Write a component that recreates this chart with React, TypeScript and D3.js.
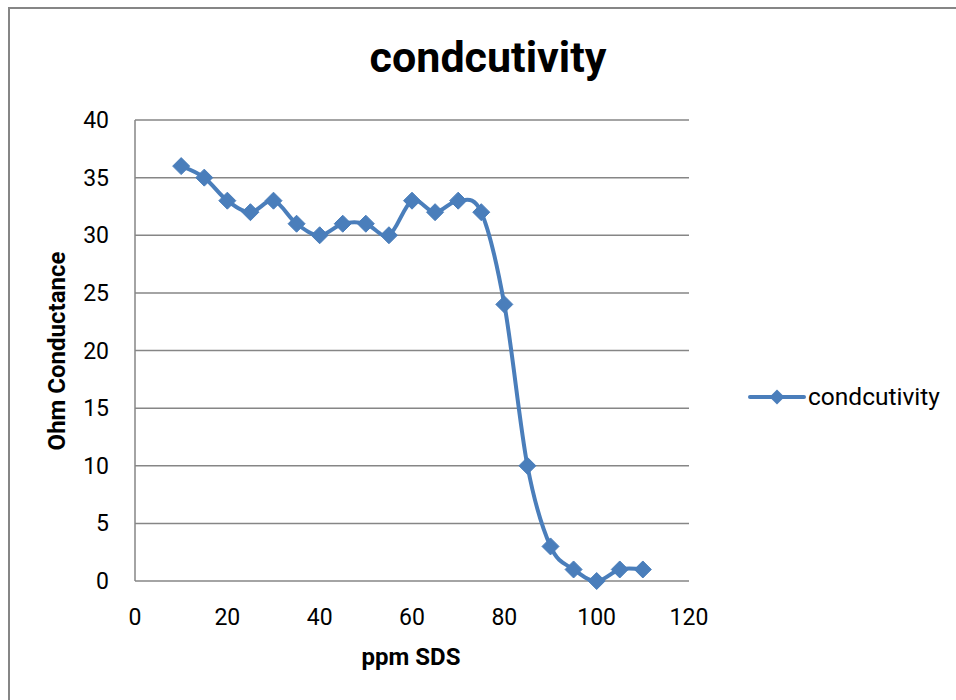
import React, { useEffect, useRef } from 'react';
import * as d3 from 'd3';

const ppm = [10, 15, 20, 25, 30, 35, 40, 45, 50, 55, 60, 65, 70, 75, 80, 85, 90, 95, 100, 105, 110];
const conductance = [36, 35, 33, 32, 33, 31, 30, 31, 31, 30, 33, 32, 33, 32, 24, 10, 3, 1, 0, 1, 1];
const xTicks = [0, 20, 40, 60, 80, 100, 120];
const yTicks = [0, 5, 10, 15, 20, 25, 30, 35, 40];
const seriesName = 'condcutivity';

const App: React.FC = () => {
  const svgRef = useRef<SVGSVGElement>(null);
  const width = 956;
  const height = 700;

  useEffect(() => {
    if (!svgRef.current) return;
    const svg = d3.select(svgRef.current);
    svg.selectAll('*').remove();

    const font = 'Roboto, "Noto Sans", sans-serif';
    const blue = '#4A7EBB';
    const gray = '#868686';

    // outer chart frame
    svg.append('rect')
      .attr('x', 9).attr('y', 8)
      .attr('width', 1000).attr('height', 1000)
      .attr('fill', 'white')
      .attr('stroke', gray)
      .attr('stroke-width', 2);

    const x = d3.scaleLinear().domain([0, 120]).range([135, 689]);
    const y = d3.scaleLinear().domain([0, 40]).range([581, 120]);

    // gridlines
    svg.append('g')
      .selectAll('line')
      .data(yTicks)
      .enter()
      .append('line')
      .attr('x1', x(0)).attr('x2', x(120))
      .attr('y1', d => y(d)).attr('y2', d => y(d))
      .attr('stroke', gray)
      .attr('stroke-width', 1.5);

    // y axis line
    svg.append('line')
      .attr('x1', x(0)).attr('x2', x(0))
      .attr('y1', y(0)).attr('y2', y(40))
      .attr('stroke', gray)
      .attr('stroke-width', 1.5);

    // tick labels
    svg.append('g')
      .selectAll('text')
      .data(yTicks)
      .enter()
      .append('text')
      .attr('x', 109)
      .attr('y', d => y(d) + 8)
      .attr('text-anchor', 'end')
      .style('font-family', font)
      .style('font-size', '23px')
      .text(d => d);

    svg.append('g')
      .selectAll('text')
      .data(xTicks)
      .enter()
      .append('text')
      .attr('x', d => x(d))
      .attr('y', 625)
      .attr('text-anchor', 'middle')
      .style('font-family', font)
      .style('font-size', '23px')
      .text(d => d);

    // titles
    svg.append('text')
      .attr('x', 488).attr('y', 72)
      .attr('text-anchor', 'middle')
      .style('font-family', font)
      .style('font-size', '43px')
      .style('font-weight', 'bold')
      .text(seriesName);

    svg.append('text')
      .attr('x', 411).attr('y', 665)
      .attr('text-anchor', 'middle')
      .style('font-family', font)
      .style('font-size', '24px')
      .style('font-weight', 'bold')
      .text('ppm SDS');

    svg.append('text')
      .attr('transform', 'translate(65, 351) rotate(-90)')
      .attr('text-anchor', 'middle')
      .style('font-family', font)
      .style('font-size', '24px')
      .style('font-weight', 'bold')
      .text('Ohm Conductance');

    // series
    const pts = ppm.map((p, i) => [p, conductance[i]] as [number, number]);
    const line = d3.line<[number, number]>()
      .x(d => x(d[0]))
      .y(d => y(d[1]))
      .curve(d3.curveCatmullRom.alpha(0));

    svg.append('path')
      .datum(pts)
      .attr('d', line)
      .attr('fill', 'none')
      .attr('stroke', blue)
      .attr('stroke-width', 4)
      .attr('stroke-linejoin', 'round');

    const diamond = (cx: number, cy: number, r: number) =>
      `M${cx},${cy - r}L${cx + r},${cy}L${cx},${cy + r}L${cx - r},${cy}Z`;

    svg.append('g')
      .selectAll('path')
      .data(pts)
      .enter()
      .append('path')
      .attr('d', d => diamond(x(d[0]), y(d[1]), 8.5))
      .attr('fill', blue)
      .attr('stroke', blue)
      .attr('stroke-width', 1);

    // legend
    const ly = 397;
    svg.append('line')
      .attr('x1', 750).attr('x2', 804)
      .attr('y1', ly).attr('y2', ly)
      .attr('stroke', blue)
      .attr('stroke-width', 4)
      .attr('stroke-linecap', 'round');
    svg.append('path')
      .attr('d', diamond(777, ly, 7.5))
      .attr('fill', blue);
    svg.append('text')
      .attr('x', 808).attr('y', ly + 8)
      .style('font-family', font)
      .style('font-size', '24.5px')
      .text(seriesName);
  }, []);

  return (
    <svg
      ref={svgRef}
      width={width}
      height={height}
      style={{ position: 'absolute', left: 0, top: 0, background: 'white' }}
    />
  );
};

export default App;
